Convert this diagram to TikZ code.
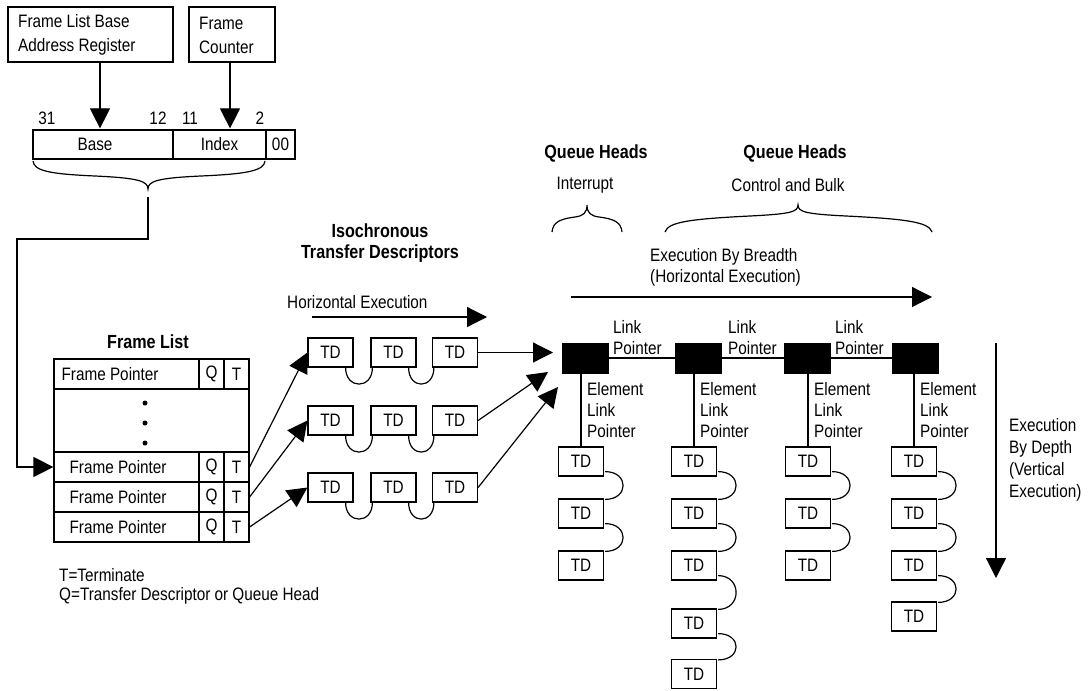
\documentclass[tikz,border=0pt]{standalone}
\usepackage{fontspec}
\setmainfont{Liberation Sans}[FakeStretch=0.85]
\usetikzlibrary{arrows.meta}
\newcommand{\hloop}[2]{\draw[ln] ([xshift=-8pt]#1.south east) .. controls +(0,22) and +(0,22) .. ([xshift=2pt]#2.south west);}
\newcommand{\vloop}[2]{\draw[ln] ([shift={(1,-5)}]#1.south east) .. controls +(24,0) and +(24,0) .. ([shift={(1,1)}]#2.north east);}
\begin{document}
\begin{tikzpicture}[x=1pt,y=-1pt,
  every node/.style={font=\fontsize{18}{21}\selectfont, inner sep=0pt},
  ln/.style={line width=1.2pt},
  box/.style={draw, line width=1.2pt, inner sep=0pt},
  td/.style={box, minimum width=45pt, minimum height=29pt},
  qh/.style={draw, fill=black, minimum width=46pt, minimum height=30pt, line width=1pt},
  arr/.style={line width=1.2pt, -{Triangle[length=20pt,width=20pt]}},
  ttl/.style={font=\fontsize{19}{21}\selectfont\bfseries},
  lbl/.style={anchor=west, align=left},
  fpcell/.style={box, minimum width=145pt, minimum height=30pt}
  ]
\useasboundingbox (0,0) rectangle (1091,690);

% ---------- registers ----------
\node[box, minimum width=165pt, minimum height=55pt] (flbar) at (90.5,34.5) {};
\node[lbl, font=\fontsize{18}{24}\selectfont] (flbart) at (18,35) {Frame List Base\\Address Register};
\node[box, minimum width=86pt, minimum height=55pt] (fc) at (232,34.5) {};
\node[lbl, font=\fontsize{18}{24}\selectfont] (fct) at (199,35) {Frame\\Counter};

\node[box, minimum width=140pt, minimum height=29pt] (base) at (103,144.5) {\hspace*{-16pt}Base};
\node[box, minimum width=93pt, minimum height=29pt] (index) at (219.5,144.5) {Index};
\node[box, minimum width=29pt, minimum height=29pt] (zz) at (280.5,144.5) {00};

\draw[arr, shorten >=1pt] ([xshift=9.5pt]flbar.south) -- ([xshift=9.5pt]flbar.south |- base.north);
\draw[arr, shorten >=1pt] ([xshift=-2pt]fc.south) -- ([xshift=-2pt]fc.south |- index.north);

\node (n31) at (47,118) {31};
\node (n12) at (158,118) {12};
\node (n11) at (190,118) {11};
\node (n2) at (260,118) {2};

% brace under register
\draw[ln] (33,161) .. controls (34,171) and (50,174) .. (95,176) .. controls (138,178) and (148,181) .. (148,189)
          .. controls (148,181) and (158,178) .. (201,176) .. controls (246,174) and (264,171) .. (265,161);
\coordinate (bt) at (148,197);
\coordinate (c1) at (17,239);

% ---------- frame list ----------
\node[ttl] (flt) at (148,342) {Frame List};
\node[fpcell, label={[anchor=west, xshift=8pt]west:Frame Pointer}] (fp1) at (126.5,374) {};
\node[box, minimum width=25pt, minimum height=30pt] (fq1) at (211.5,374) {Q};
\node[box, minimum width=25pt, minimum height=30pt] (ft1) at (236.5,374) {T};
\node[box, minimum width=195pt, minimum height=63pt] (dots) at (151.5,420.5) {};
\fill (145,403) circle (2.5);
\fill (145,423) circle (2.5);
\fill (145,443) circle (2.5);
\foreach \n/\y in {a/467,b/497,c/527}{
  \node[fpcell, label={[anchor=west, xshift=16pt]west:Frame Pointer}] (fp\n) at (126.5,\y) {};
  \node[box, minimum width=25pt, minimum height=30pt] (fq\n) at (211.5,\y) {Q};
  \node[box, minimum width=25pt, minimum height=30pt] (ft\n) at (236.5,\y) {T};
}
\draw[arr] (bt) |- (c1) |- (fpa.west);

\node[anchor=base west] (tterm) at (59,581) {T=Terminate};
\node[anchor=base west] (qterm) at (59,600) {Q=Transfer Descriptor or Queue Head};

% ---------- isochronous TDs ----------
\node[ttl, align=center] (iso) at (380,243.5) {Isochronous\\Transfer Descriptors};
\node[anchor=west] (hex) at (287,302) {Horizontal Execution};
\coordinate (hx1) at (312,317);
\coordinate (hx2) at (487,317);
\draw[arr] (hx1) -- (hx2);

\foreach \r/\y in {1/352.5,2/420.5,3/487.5}{
  \node[td] (r\r a) at (330.5,\y) {TD};
  \node[td] (r\r b) at (393.5,\y) {TD};
  \node[td] (r\r c) at (455,\y) {TD};
}
\hloop{r1a}{r1b}\hloop{r1b}{r1c}
\hloop{r2a}{r2b}\hloop{r2b}{r2c}
\hloop{r3a}{r3b}\hloop{r3b}{r3c}

\draw[arr] (fta.east) -- (r1a.west);
\draw[arr] (ftb.east) -- (r2a.west);
\draw[arr] (ftc.east) -- (r3a.west);

% ---------- queue heads ----------
\node[ttl] (qht1) at (596,153) {Queue Heads};
\node (intr) at (585,185) {Interrupt};
\node[ttl] (qht2) at (795,153) {Queue Heads};
\node (cab) at (788,185) {Control and Bulk};
\draw[ln] (552,232) .. controls (553,222) and (560,219) .. (575,217) .. controls (583,216) and (587,213) .. (587,205)
          .. controls (587,213) and (591,216) .. (599,217) .. controls (614,219) and (621,222) .. (622,232);
\draw[ln] (665,232) .. controls (668,222) and (690,219) .. (750,216) .. controls (790,214) and (798,212) .. (798,205)
          .. controls (798,212) and (806,214) .. (846,216) .. controls (906,219) and (929,222) .. (932,232);

\node[lbl] (ebb) at (650,267.5) {Execution By Breadth\\(Horizontal Execution)};
\coordinate (b1) at (571,297);
\coordinate (b2) at (932,297);
\draw[arr] (b1) -- (b2);

\node[qh] (qh1) at (585,358) {};
\node[qh] (qh2) at (698,358) {};
\node[qh] (qh3) at (807,358) {};
\node[qh] (qh4) at (915.5,358) {};
\draw[ln] (qh1.east) -- (qh2.west);
\draw[ln] (qh2.east) -- (qh3.west);
\draw[ln] (qh3.east) -- (qh4.west);

\node[lbl] (lp1) at (613,337.5) {Link\\Pointer};
\node[lbl] (lp2) at (728,337.5) {Link\\Pointer};
\node[lbl] (lp3) at (835,337.5) {Link\\Pointer};

\coordinate (a1) at (553,352.5);
\coordinate (a2) at (548,372);
\coordinate (a3) at (558,387);
\draw[arr] (r1c.east) -- (a1);
\draw[arr] (r2c.east) -- (a2);
\draw[arr] (r3c.east) -- (a3);

% columns
\foreach \c/\x in {1/581,2/694,3/808,4/914}{
  \node[td] (c\c t1) at (\x,461.5) {TD};
  \node[td] (c\c t2) at (\x,513.5) {TD};
  \node[td] (c\c t3) at (\x,565.5) {TD};
  \node[lbl] (el\c) at (\x+6,410) {Element\\Link\\Pointer};
}
\node[td] (c2t4) at (694,623.5) {TD};
\node[td] (c2t5) at (694,674) {TD};
\node[td] (c4t4) at (914,616.5) {TD};

\draw[ln] (c1t1.north) -- (c1t1.north |- qh1.south);
\draw[ln] (c2t1.north) -- (c2t1.north |- qh2.south);
\draw[ln] (c3t1.north) -- (c3t1.north |- qh3.south);
\draw[ln] (c4t1.north) -- (c4t1.north |- qh4.south);

\vloop{c1t1}{c1t2}\vloop{c1t2}{c1t3}
\vloop{c2t1}{c2t2}\vloop{c2t2}{c2t3}\vloop{c2t3}{c2t4}\vloop{c2t4}{c2t5}
\vloop{c3t1}{c3t2}\vloop{c3t2}{c3t3}
\vloop{c4t1}{c4t2}\vloop{c4t2}{c4t3}\vloop{c4t3}{c4t4}

% execution by depth
\coordinate (d1) at (996,343);
\coordinate (d2) at (996,578);
\draw[arr] (d1) -- (d2);
\node[lbl, font=\fontsize{18}{22}\selectfont] (ebd) at (1009,460) {Execution\\By Depth\\(Vertical\\Execution)};
\end{tikzpicture}
\end{document}
